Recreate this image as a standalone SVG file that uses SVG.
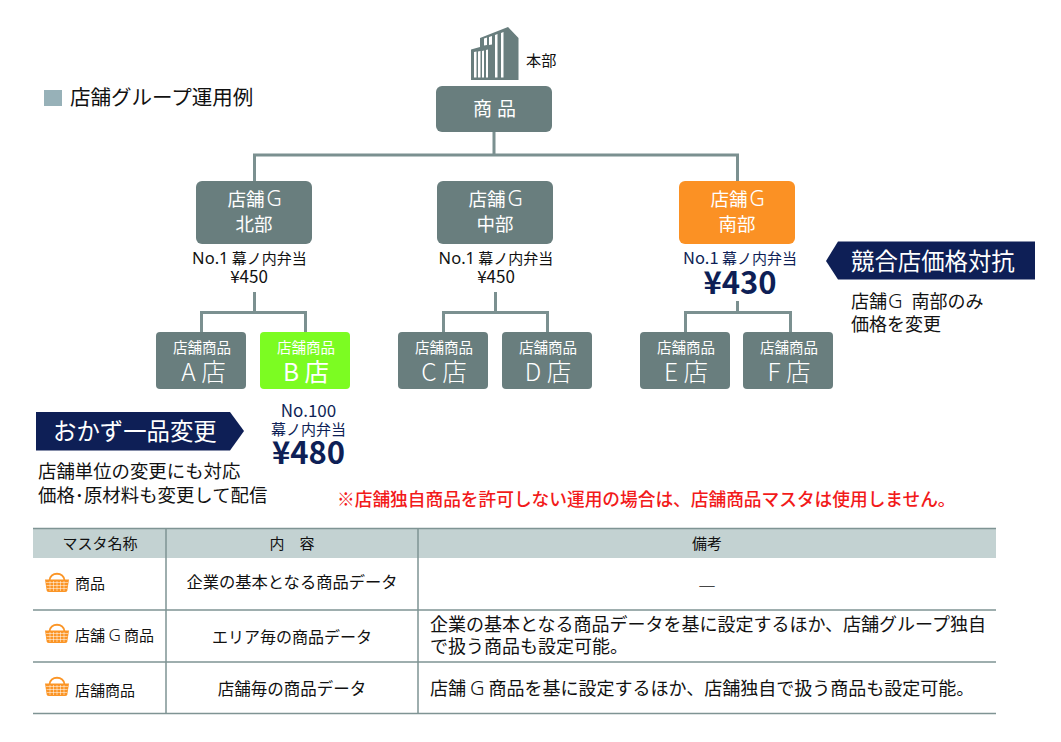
<svg xmlns="http://www.w3.org/2000/svg" xmlns:xlink="http://www.w3.org/1999/xlink" width="1061" height="742" viewBox="0 0 1061 742">
<style>
text{font-family:"Noto Sans CJK JP","Noto Sans",sans-serif;fill:#111}
.box{fill:#697e7e}
.w{fill:#fff;text-anchor:middle}
.t{font-weight:300}
.m{text-anchor:middle}
.navy{fill:#0e1f56}
.big{font-size:31px;font-weight:700;text-anchor:middle;fill:#0e1f56}
.conn{fill:none;stroke:#7b9090;stroke-width:3}
.tl{fill:none;stroke:#7f9494;stroke-width:1.5}
.l{font-family:"Noto Sans",sans-serif;font-weight:300}
</style>
<defs>
<g id="basket">
<path d="M-7.500 -2.500C-7.500 -11.500 7.500 -11.500 7.500 -2.500" fill="none" stroke="#fb9526" stroke-width="1.800"/>
<path d="M-12 -3.500H12L10.300 7.500Q10 9 8 9H-8Q-10 9 -10.300 7.500Z" fill="#fb9526"/>
<path d="M-11 -0.500H11M-10.500 2.500H10.500M-10 5.500H10M-7 -2V8M-3.500 -2V8M0 -2V8M3.500 -2V8M7 -2V8" stroke="#fff" stroke-width="0.500" fill="none"/>
</g>
</defs>
<rect width="1061" height="742" fill="#fff"/>
<g id="connectors">
<path class="conn" d="M494 132V155M254.500 181V155H737.500V181"/>
<path class="conn" d="M254.500 292V312.500M201.500 332V312.500H305.500V332"/>
<path class="conn" d="M495.500 292V312.500M443.500 332V312.500H547.500V332"/>
<path class="conn" d="M737.500 301V312.500M685.500 332V312.500H790.500V332"/>
</g>
<g id="legend"><rect x="44" y="90" width="18" height="16" fill="#97b1b8"/><text x="70" y="105" font-size="20.500">店舗グループ運用例</text></g>
<g id="hq">
<path d="M471 80V49.500L480 47V38L508 27L518.500 38V80Z" fill="#697e7e"/>
<path d="M474 52V77.500H476.500V51.500ZM478 51.500V77.500H480.500V51ZM482 51V77.500H484V50.500ZM486 50V77.500H488V49.500ZM484 38.500V45.500L487 45V37.500ZM489 37V45L492 44.500V36ZM495 35V77.500H497.500V34ZM501 33V77.500H503.500V32Z" fill="#fff"/>
<text x="526" y="66" font-size="15.200">本部</text>
</g>
<g id="node-shohin"><rect class="box" x="436" y="86" width="116" height="46" rx="6"/><text class="w" x="497" y="116" font-size="19" letter-spacing="5">商品</text></g>
<g id="node-north"><rect class="box" x="196" y="181" width="116" height="63" rx="6"/><text class="w" x="254.500" y="206" font-size="18.500">店舗<tspan class="l" font-size="21" dx="2">G</tspan></text><text class="w" x="254" y="231" font-size="18.500">北部</text></g>
<g id="node-center"><rect class="box" x="437" y="181" width="116" height="63" rx="6"/><text class="w" x="495.500" y="206" font-size="18.500">店舗<tspan class="l" font-size="21" dx="2">G</tspan></text><text class="w" x="495" y="231" font-size="18.500">中部</text></g>
<g id="node-south"><rect x="679" y="181" width="116" height="63" rx="6" fill="#fb9124"/><text class="w" x="737.500" y="206" font-size="18.500">店舗<tspan class="l" font-size="21" dx="2">G</tspan></text><text class="w" x="737" y="231" font-size="18.500">南部</text></g>
<g id="price-north"><text class="m" x="249.500" y="264" font-size="15"><tspan font-family="Noto Sans" font-size="16.500">No.1</tspan> 幕ノ内弁当</text><text class="m" x="249" y="283" font-family="Noto Sans" font-size="17">¥450</text></g>
<g id="price-center"><text class="m" x="496" y="264" font-size="15"><tspan font-family="Noto Sans" font-size="16.500">No.1</tspan> 幕ノ内弁当</text><text class="m" x="496" y="283" font-size="17">¥450</text></g>
<g id="price-south"><text class="m navy" x="740" y="264" font-size="15"><tspan font-size="16.500">No.1</tspan> 幕ノ内弁当</text><text class="big" x="740" y="294">¥430</text></g>
<g id="store-a"><rect class="box" x="156" y="332" width="90" height="57" rx="4"/><text class="w" x="202" y="353" font-size="14.500">店舗商品</text><text class="w t" x="203.500" y="381" font-size="24.500">A 店</text></g>
<g id="store-b"><rect x="260" y="332" width="90" height="57" rx="4" fill="#7cfc22"/><text class="w" x="306" y="353" font-size="14.500">店舗商品</text><text class="w" x="306" y="381" font-size="24.500">B 店</text></g>
<g id="store-c"><rect class="box" x="398" y="332" width="90" height="57" rx="4"/><text class="w" x="444" y="353" font-size="14.500">店舗商品</text><text class="w t" x="444" y="381" font-size="24.500">C 店</text></g>
<g id="store-d"><rect class="box" x="502" y="332" width="90" height="57" rx="4"/><text class="w" x="548" y="353" font-size="14.500">店舗商品</text><text class="w t" x="548" y="381" font-size="24.500">D 店</text></g>
<g id="store-e"><rect class="box" x="640" y="332" width="90" height="57" rx="4"/><text class="w" x="686" y="353" font-size="14.500">店舗商品</text><text class="w t" x="686" y="381" font-size="24.500">E 店</text></g>
<g id="store-f"><rect class="box" x="743" y="332" width="90" height="57" rx="4"/><text class="w" x="789" y="353" font-size="14.500">店舗商品</text><text class="w t" x="789" y="381" font-size="24.500">F 店</text></g>
<g id="callout-right">
<path class="navy" d="M826 261L838 241.500H1035V279.500H838Z"/>
<text x="851" y="270" font-size="23.400" style="fill:#fff">競合店価格対抗</text>
<text x="851" y="308" font-size="18">店舗<tspan class="l" font-size="20" dx="1">G</tspan><tspan dx="5"> 南部のみ</tspan></text>
<text x="851" y="331" font-size="18">価格を変更</text>
</g>
<g id="callout-left">
<path class="navy" d="M36 412H230L244 431L230 450.500H36Z"/>
<text x="53" y="440" font-size="23.400" style="fill:#fff">おかず一品変更</text>
<text x="38" y="478" font-size="18.400">店舗単位の変更にも対応</text>
<text x="38" y="502" font-size="18.400">価格･原材料も変更して配信</text>
</g>
<g id="price-b"><text class="m navy" x="308.500" y="417" font-size="17">No.100</text><text class="m navy" x="308.500" y="435" font-size="15">幕ノ内弁当</text><text class="big" x="308.500" y="464">¥480</text></g>
<text id="note" x="337" y="506" font-size="17.700" style="fill:#f21a1a;font-weight:500">※店舗独自商品を許可しない運用の場合は、店舗商品マスタは使用しません。</text>
<g id="table">
<rect x="33" y="529" width="963" height="29" fill="#c3d2d2"/>
<path class="tl" d="M33 528.500H996M33 610H996M33 662H996M33 713.500H996M166 529V713M418 529V713"/>
<text class="m" x="100" y="549" font-size="15">マスタ名称</text>
<text class="m" x="292" y="549" font-size="15">内　容</text>
<text class="m" x="707" y="549" font-size="15">備考</text>
<use xlink:href="#basket" x="57" y="583"/>
<use xlink:href="#basket" x="57" y="634"/>
<use xlink:href="#basket" x="57" y="687"/>
<text x="75" y="589" font-size="15">商品</text>
<text x="75" y="641" font-size="15">店舗 <tspan class="l" font-size="17">G</tspan> 商品</text>
<text x="75" y="696" font-size="15">店舗商品</text>
<text class="m" x="292" y="588" font-size="16.300">企業の基本となる商品データ</text>
<text class="m" x="292" y="643" font-size="16">エリア毎の商品データ</text>
<text class="m" x="292" y="695" font-size="16.500">店舗毎の商品データ</text>
<text class="m" x="707" y="593" font-size="18">―</text>
<text x="430" y="631" font-size="18">企業の基本となる商品データを基に設定するほか、店舗グループ独自</text>
<text x="430" y="653" font-size="18">で扱う商品も設定可能。</text>
<text x="430" y="695" font-size="18">店舗 <tspan class="l" font-size="20">G</tspan> 商品を基に設定するほか、店舗独自で扱う商品も設定可能。</text>
</g>
</svg>
